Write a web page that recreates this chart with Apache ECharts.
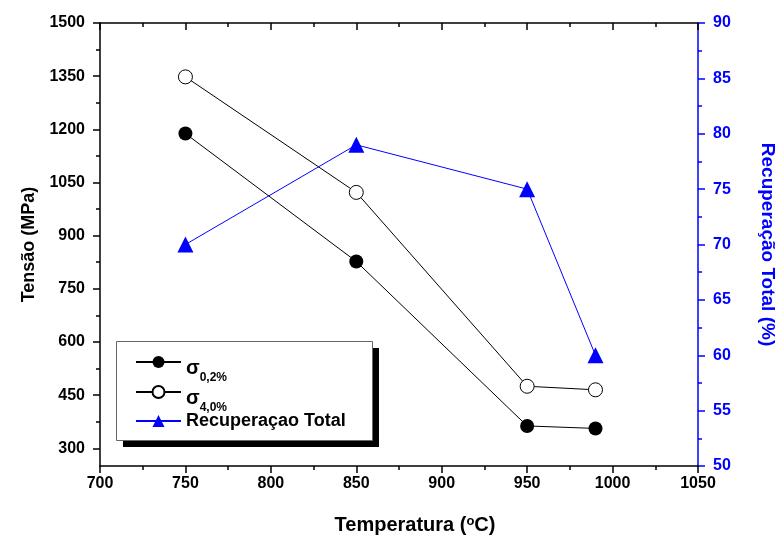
<!DOCTYPE html>
<html>
<head>
<meta charset="utf-8">
<script src="https://cdn.jsdelivr.net/npm/echarts@6/dist/echarts.min.js"></script>
<style>html,body{margin:0;padding:0;background:#fff}#c{width:778px;height:536px}</style>
</head>
<body>
<div id="c"></div>
<script>
var temperaturas = [750, 850, 950, 990];
var sigma02 = [1188, 827, 363, 356];
var sigma40 = [1348, 1022, 475, 465];
var recuperacao = [70, 79, 75, 60];
var tensaoLabels = [300, 450, 600, 750, 900, 1050, 1200, 1350, 1500];
var tensaoMinor = [375, 525, 675, 825, 975, 1125, 1275, 1425];
var seriesNames = ['σ0,2%', 'σ4,0%', 'Recuperaçao Total'];

function pairs(xs, ys) { return xs.map(function (x, i) { return [x, ys[i]]; }); }
function plain(v) { return String(v); }

var FONT = '"Liberation Sans", Arial, sans-serif';
var chart = echarts.init(document.getElementById('c'), null, { renderer: 'canvas' });
var axisBlack = { lineStyle: { color: '#000', width: 1.5 } };
chart.setOption({
  animation: false,
  textStyle: { fontFamily: FONT },
  grid: { left: 100, right: 80, top: 23, bottom: 70, containLabel: false, outerBoundsMode: 'none' },
  graphic: [
    { type: 'rect', z: 3, shape: { x: 123, y: 348, width: 256, height: 99 }, style: { fill: '#000' } },
    { type: 'rect', z: 3, shape: { x: 116.5, y: 341.5, width: 256, height: 99 }, style: { fill: '#fff', stroke: '#666', lineWidth: 1 } }
  ],
  legend: {
    orient: 'vertical', left: 116, top: 341,
    data: seriesNames, z: 5,
    itemWidth: 45, itemHeight: 15, itemGap: -2,
    padding: [11, 21, 4, 19],
    formatter: function (n) {
      if (n === seriesNames[0]) return '{s|σ}{sub|0,2%}';
      if (n === seriesNames[1]) return '{s|σ}{sub|4,0%}';
      return '{r|' + n + '}';
    },
    textStyle: {
      color: '#000', fontWeight: 'bold', fontFamily: FONT,
      rich: {
        s: { fontSize: 20, fontWeight: 'bold', lineHeight: 20, padding: [6, 0, 0, 0], verticalAlign: 'top', fontFamily: FONT },
        sub: { fontSize: 12, fontWeight: 'bold', lineHeight: 12, padding: [20, 0, 0, 0], verticalAlign: 'top', fontFamily: FONT },
        r: { fontSize: 18, fontWeight: 'bold', lineHeight: 32, fontFamily: FONT }
      }
    }
  },
  xAxis: [{
    type: 'value', min: 700, max: 1050, interval: 50, position: 'bottom',
    name: 'Temperatura ({sup|o}C)', nameLocation: 'middle', nameGap: 49,
    nameTextStyle: { fontSize: 20, fontWeight: 'bold', color: '#000', fontFamily: FONT, padding: [0, 0, 0, 32],
      rich: { sup: { fontSize: 13, fontWeight: 'bold', verticalAlign: 'top', lineHeight: 13, padding: [0, 0, 9, 0], fontFamily: FONT } } },
    axisLine: axisBlack,
    axisTick: { inside: false, length: 7, lineStyle: { color: '#000', width: 1.5 } },
    minorTick: { show: true, splitNumber: 2, length: 4, lineStyle: { color: '#000', width: 1.5 } },
    splitLine: { show: false },
    axisLabel: { fontSize: 16, fontWeight: 'bold', color: '#000', margin: 10, fontFamily: FONT, formatter: plain }
  }, {
    type: 'value', min: 700, max: 1050, interval: 50, position: 'top',
    axisLine: axisBlack,
    axisTick: { inside: true, length: 7, lineStyle: { color: '#000', width: 1.5 } },
    minorTick: { show: true, splitNumber: 2, length: 4, lineStyle: { color: '#000', width: 1.5 } },
    splitLine: { show: false },
    axisLabel: { show: false }
  }],
  yAxis: [{
    type: 'value', min: 250, max: 1500, position: 'left',
    name: 'Tensão (MPa)', nameLocation: 'middle', nameGap: 62, nameRotate: 90,
    nameTextStyle: { fontSize: 18, fontWeight: 'bold', color: '#000', fontFamily: FONT },
    axisLine: { show: true, lineStyle: { color: '#000', width: 1.5 } },
    axisTick: { show: true, inside: false, length: 7, customValues: tensaoLabels, lineStyle: { color: '#000', width: 1.5 } },
    splitLine: { show: false },
    axisLabel: { customValues: tensaoLabels, fontSize: 16, fontWeight: 'bold', color: '#000', margin: 15, fontFamily: FONT, formatter: plain }
  }, {
    type: 'value', min: 50, max: 90, interval: 5, position: 'right',
    name: 'Recuperação Total (%)', nameLocation: 'middle', nameGap: 60, nameRotate: -90,
    nameTextStyle: { fontSize: 19, fontWeight: 'bold', color: '#0000ff', fontFamily: FONT },
    axisLine: { show: true, lineStyle: { color: '#0000ff', width: 1.5 } },
    axisTick: { show: true, inside: false, length: 7, lineStyle: { color: '#0000ff', width: 1.5 } },
    minorTick: { show: true, splitNumber: 2, length: 4, lineStyle: { color: '#0000ff', width: 1.5 } },
    splitLine: { show: false },
    axisLabel: { fontSize: 16, fontWeight: 'bold', color: '#0000ff', margin: 15, fontFamily: FONT, formatter: plain }
  }, {
    type: 'value', min: 250, max: 1500, position: 'left',
    axisLine: { show: false },
    axisTick: { show: true, inside: false, length: 4, customValues: tensaoMinor, lineStyle: { color: '#000', width: 1.5 } },
    splitLine: { show: false },
    axisLabel: { show: false }
  }],
  series: [{
    name: seriesNames[0], type: 'line', xAxisIndex: 0, yAxisIndex: 0,
    data: pairs(temperaturas, sigma02),
    symbol: 'circle', symbolSize: 14,
    itemStyle: { color: '#000' },
    lineStyle: { color: '#000', width: 1 }
  }, {
    name: seriesNames[1], type: 'line', xAxisIndex: 0, yAxisIndex: 0,
    data: pairs(temperaturas, sigma40),
    symbol: 'circle', symbolSize: 14,
    itemStyle: { color: '#fff', borderColor: '#000', borderWidth: 1 },
    lineStyle: { color: '#000', width: 1 }
  }, {
    name: seriesNames[2], type: 'line', xAxisIndex: 0, yAxisIndex: 1,
    data: pairs(temperaturas, recuperacao),
    symbol: 'triangle', symbolSize: 16,
    itemStyle: { color: '#0000ff' },
    lineStyle: { color: '#0000ff', width: 1 }
  }]
});
</script>
</body>
</html>
